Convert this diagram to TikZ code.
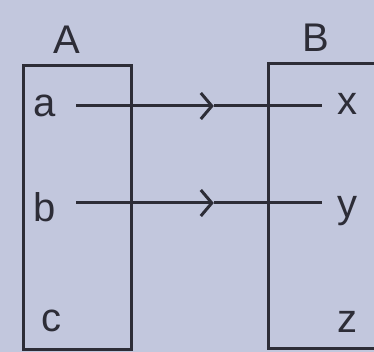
\documentclass[tikz,border=0pt]{standalone}
\usepackage{fontspec}
\setmainfont{Liberation Sans}
\usetikzlibrary{arrows.meta}
\definecolor{paper}{RGB}{194,199,221}
\definecolor{ink}{RGB}{45,45,55}
\tikzset{
  lbl/.style={inner sep=0pt,text=ink,font=\fontsize{40}{40}\selectfont},
  edge/.style={ink,line width=3pt},
  tip/.style={edge,-{Straight Barb[length=11pt,width=26pt]}}
}
\begin{document}
\begin{tikzpicture}[x=1pt,y=-1pt]
\fill[paper] (0,0) rectangle (374,352);
\useasboundingbox (0,0) rectangle (374,352);
\clip (0,0) rectangle (374,352);

% the two sets
\draw[edge] (23,66) rectangle (131,349);
\draw[edge] (268,64) rectangle (390,348);
\node[lbl] (setA) at (67,40) {A};
\node[lbl] (setB) at (316,38) {B};

% elements
\node[lbl] (a) at (45,106) {a};
\node[lbl] (b) at (45,207) {b};
\node[lbl] (c) at (51,321) {c};
\node[lbl] (x) at (347,104) {x};
\node[lbl] (y) at (347,211) {y};
\node[lbl] (z) at (347,322) {z};

% the mapping
\coordinate (aS) at ([xshift=20pt]a.east);
\coordinate (xE) at ([xshift=-15pt]a.east -| x.west);
\coordinate (bS) at ([xshift=20pt,yshift=4pt]b.east);
\coordinate (yE) at ([xshift=-15pt,yshift=4pt]b.east -| y.west);
\path (aS) -- (xE) coordinate[pos=0.56] (aM);
\path (bS) -- (yE) coordinate[pos=0.56] (bM);
\draw[tip] (aS) -- (aM);
\draw[edge] (aM) -- (xE);
\draw[tip] (bS) -- (bM);
\draw[edge] (bM) -- (yE);
\end{tikzpicture}
\end{document}
